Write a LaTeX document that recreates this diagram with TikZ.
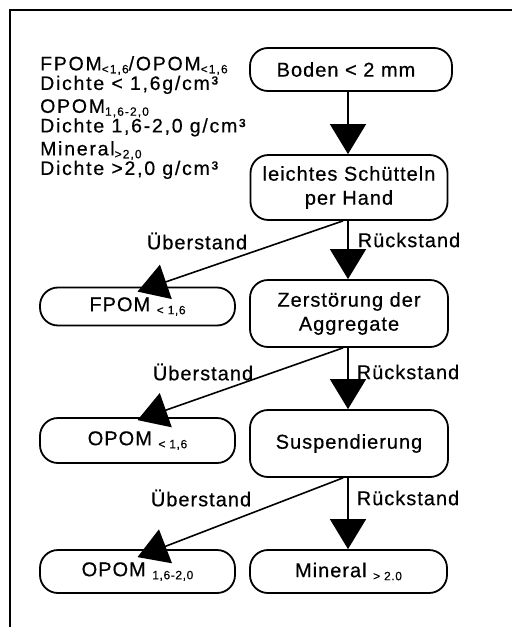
\documentclass[tikz,border=0pt]{standalone}
\usepackage{fontspec}
\setmainfont{Liberation Sans}[LetterSpace=5,FakeBold=0.5]
\newfontfamily\legendfont{Liberation Sans}[LetterSpace=9,FakeBold=0.5]
\usetikzlibrary{arrows.meta,calc}
\newcommand{\lowsub}[1]{\raisebox{-0.15em}{\fontsize{12}{13}\selectfont #1}}
\tikzset{
  box/.style={draw, line width=1.8pt, rounded corners=18pt, align=center, inner sep=2pt},
  txt/.style={font=\fontsize{20}{24}\selectfont},
  arr/.style={line width=1.6pt, -{Triangle[length=30pt,width=36pt]}},
  lbl/.style={font=\fontsize{20}{24}\selectfont, inner sep=0pt},
  side/.style={font=\legendfont\fontsize{19.5}{17.5}\selectfont, anchor=north west, align=left, inner sep=0pt}
}
\begin{document}
\begin{tikzpicture}[x=1pt,y=-1pt]
\useasboundingbox (0,0) rectangle (512,627);
\draw[line width=1.5pt] (512,10) -- (10,10) -- (10,627);
% side legend
\node[side] (l1) at (40,56) {FPOM\lowsub{<1,6}/OPOM\lowsub{<1,6}\\Dichte < 1,6g/cm³};
\node[side] (l2) at (40,99) {OPOM\lowsub{1,6-2,0}\\Dichte 1,6-2,0 g/cm³};
\node[side] (l3) at (40,141) {Mineral\lowsub{>2,0}\\Dichte >2,0 g/cm³};
% boxes
\node[box,txt,minimum width=202pt,minimum height=43pt] (boden) at (351,69.5) {Boden < 2 mm\hspace*{10pt}};
\node[box,txt,minimum width=197pt,minimum height=65pt] (hand) at (349,187.5) {leichtes Schütteln\\per Hand};
\node[box,txt,minimum width=195pt,minimum height=38pt] (fpom) at (137.5,306.5) {FPOM \lowsub{< 1,6}};
\node[box,txt,minimum width=198pt,minimum height=67pt] (zer) at (349,313.5) {Zerstörung der\\Aggregate};
\node[box,txt,minimum width=195pt,minimum height=45pt] (opom1) at (137.5,440.5) {OPOM \lowsub{< 1,6}};
\node[box,txt,minimum width=198pt,minimum height=67pt] (susp) at (349,443.5) {Suspendierung};
\node[box,txt,minimum width=195pt,minimum height=43pt] (opom2) at (137.5,571.5) {OPOM \lowsub{1,6-2,0}};
\node[box,txt,minimum width=197pt,minimum height=43pt] (mineral) at (348.5,571.5) {Mineral \lowsub{> 2.0}};
% arrows
\draw[arr] ([xshift=-3pt]boden.south) -- ([xshift=-3pt]boden.south |- hand.north);
\draw[arr] ([xshift=-1pt]hand.south) -- ([xshift=-1pt]hand.south |- zer.north);
\draw[arr] ([xshift=-1pt]zer.south) -- ([xshift=-1pt]zer.south |- susp.north);
\draw[arr] ([xshift=-1pt]susp.south) -- ([xshift=-1pt]susp.south |- mineral.north);
\draw[arr] ([xshift=-6pt]hand.south) -- ([yshift=-5pt]fpom.north);
\draw[arr] ([xshift=-6pt]zer.south) -- ([yshift=-3pt]opom1.north);
\draw[arr] ([xshift=-6pt]susp.south) -- ([yshift=-8pt]opom2.north);
% labels
\node[lbl] (u1) at (197,241) {Überstand};
\node[lbl] (r1) at (409,240) {Rückstand};
\node[lbl] (u2) at (203,372) {Überstand};
\node[lbl] (r2) at (408,372) {Rückstand};
\node[lbl] (u3) at (201,498) {Überstand};
\node[lbl] (r3) at (408,498) {Rückstand};
\end{tikzpicture}
\end{document}
